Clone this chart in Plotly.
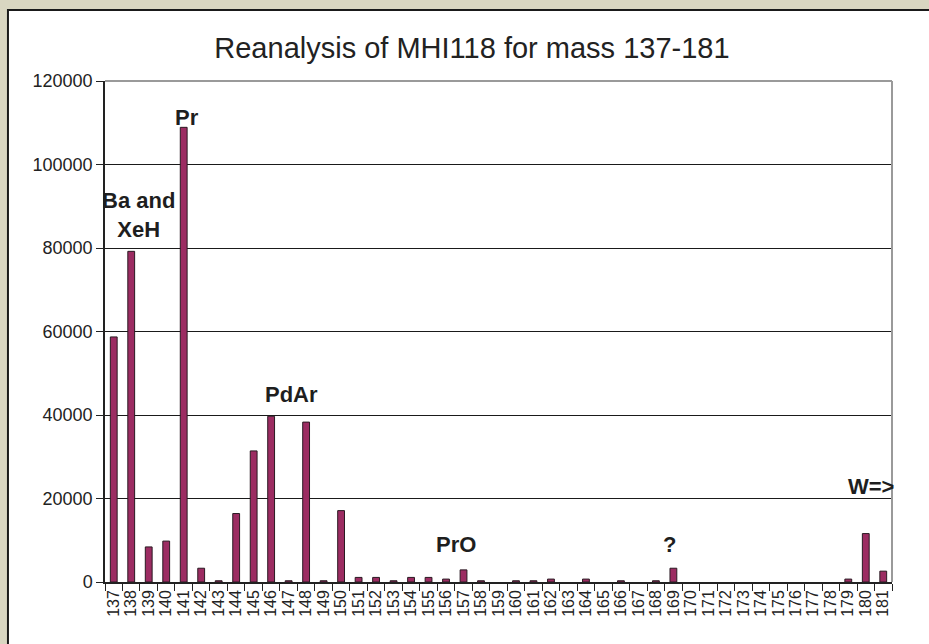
import plotly.graph_objects as go

masses = [str(m) for m in range(137, 182)]
counts = [58700, 79200, 8400, 9800, 108900, 3300, 300, 16400, 31400, 39700,
          300, 38300, 300, 17100, 1100, 1100, 300, 1100, 1100, 700,
          2900, 300, 0, 300, 300, 700, 0, 700, 0, 300,
          0, 300, 3300, 0, 0, 0, 0, 0, 0, 0,
          0, 0, 700, 11600, 2600]

labels = ["Ba and<br>XeH", "Pr", "PdAr", "PrO", "?", "W=>"]
label_x = [0.042, 0.104, 0.2376, 0.446, 0.7167, 0.9733]
label_y = [0.733, 0.928, 0.3733, 0.0758, 0.0739, 0.1916]

title_text = "Reanalysis of MHI118 for mass 137-181"

line_widths = [1 if v > 0 else 0 for v in counts]

fig = go.Figure()
fig.add_trace(go.Bar(
    x=masses, y=counts,
    marker=dict(color="#9C2C62", line=dict(color="#2A1A22", width=line_widths)),
    showlegend=False,
))

shapes = [
    dict(type="rect", xref="paper", yref="paper",
         x0=-0.1233, x1=1.07, y0=-0.17, y1=1.1417,
         fillcolor="white", line=dict(color="#1A1A1A", width=2), layer="below"),
    dict(type="line", xref="paper", yref="paper", x0=0, x1=1, y0=1, y1=1,
         line=dict(color="#9A9A9A", width=2)),
    dict(type="line", xref="paper", yref="paper", x0=1, x1=1, y0=0, y1=1,
         line=dict(color="#9A9A9A", width=2)),
]

annotations = [
    dict(text="<b>%s</b>" % t.replace("<br>", "</b><br><b>"), x=x, y=y,
         xref="paper", yref="paper", showarrow=False,
         xanchor="center", yanchor="middle",
         font=dict(family="Liberation Sans, Arial", size=22, color="#1E1E1E"))
    for t, x, y in zip(labels, label_x, label_y)
]

fig.update_layout(
    width=929, height=644,
    margin=dict(l=105, r=37, t=81, b=62),
    paper_bgcolor="#D9D6C1",
    plot_bgcolor="#C8C8CA",
    bargap=0.61,
    title=dict(text=title_text, x=0.508, xanchor="center", y=0.9256, yanchor="middle",
               font=dict(family="Liberation Sans, Arial", size=29, color="#222222")),
    font=dict(family="Liberation Sans, Arial", color="#222222"),
    shapes=shapes,
    annotations=annotations,
    xaxis=dict(
        type="category", tickangle=-90, tickfont=dict(size=16), dtick=1,
        showgrid=False, showline=True, linecolor="#222222", linewidth=1.5,
        ticks="outside", ticklen=7, tickcolor="#222222", tickson="boundaries",
        zeroline=False,
    ),
    yaxis=dict(
        range=[0, 120000], dtick=20000, tickfont=dict(size=18),
        showgrid=True, gridcolor="#1A1A1A", gridwidth=1,
        showline=True, linecolor="#222222", linewidth=1.5,
        ticks="outside", ticklen=7, tickcolor="#222222",
        zeroline=False, tickformat="d",
    ),
)

fig.write_html(
    "out.html",
    config={"displayModeBar": False},
    post_script="document.body.style.margin='0';document.body.style.overflow='hidden';"
                "document.body.style.background='#D9D6C1';",
)
